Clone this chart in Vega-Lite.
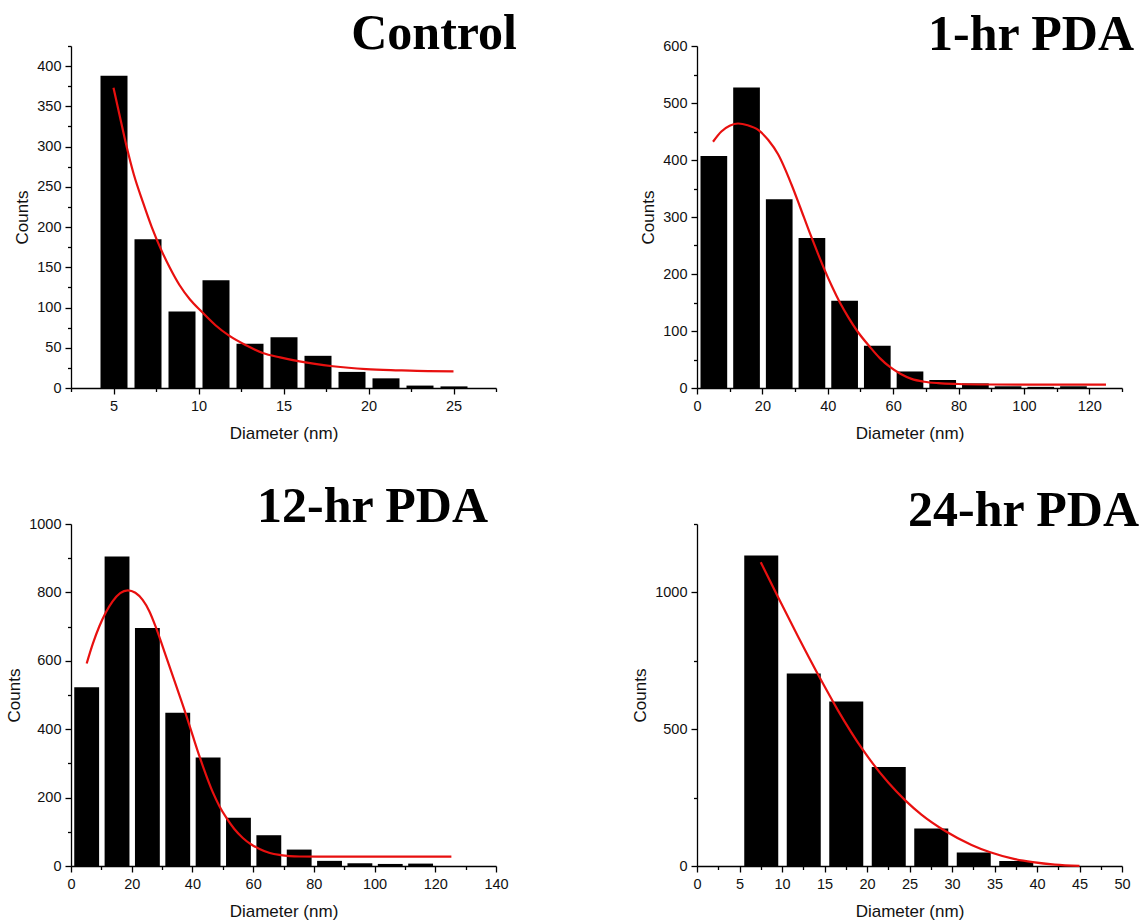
{
  "$schema": "https://vega.github.io/schema/vega-lite/v6.json",
  "padding": {"left": 5, "top": 9, "right": 0, "bottom": 0},
  "background": "white",
  "datasets": {
    "c_bars": [
      {"bin_start": 4, "bin_end": 6, "count": 388},
      {"bin_start": 6, "bin_end": 8, "count": 185},
      {"bin_start": 8, "bin_end": 10, "count": 95},
      {"bin_start": 10, "bin_end": 12, "count": 134},
      {"bin_start": 12, "bin_end": 14, "count": 55},
      {"bin_start": 14, "bin_end": 16, "count": 63},
      {"bin_start": 16, "bin_end": 18, "count": 40},
      {"bin_start": 18, "bin_end": 20, "count": 20},
      {"bin_start": 20, "bin_end": 22, "count": 12},
      {"bin_start": 22, "bin_end": 24, "count": 3},
      {"bin_start": 24, "bin_end": 26, "count": 2}
    ],
    "c_fit": [
      {"d": 5.0, "fit": 373}, {"d": 5.4, "fit": 335}, {"d": 5.75, "fit": 302}, {"d": 6.2, "fit": 265},
      {"d": 6.73, "fit": 231}, {"d": 7.25, "fit": 200}, {"d": 7.8, "fit": 172}, {"d": 8.3, "fit": 150},
      {"d": 8.88, "fit": 128}, {"d": 9.5, "fit": 110}, {"d": 10.18, "fit": 95}, {"d": 11.0, "fit": 78},
      {"d": 11.8, "fit": 65}, {"d": 12.8, "fit": 53}, {"d": 13.78, "fit": 43.5}, {"d": 14.8, "fit": 38},
      {"d": 15.94, "fit": 33}, {"d": 17.9, "fit": 27}, {"d": 19.86, "fit": 23.5}, {"d": 21.8, "fit": 22},
      {"d": 23.5, "fit": 21}, {"d": 25, "fit": 20.7}
    ],
    "h1_bars": [
      {"bin_start": 0, "bin_end": 10, "count": 407},
      {"bin_start": 10, "bin_end": 20, "count": 527},
      {"bin_start": 20, "bin_end": 30, "count": 331},
      {"bin_start": 30, "bin_end": 40, "count": 263},
      {"bin_start": 40, "bin_end": 50, "count": 153},
      {"bin_start": 50, "bin_end": 60, "count": 74},
      {"bin_start": 60, "bin_end": 70, "count": 29},
      {"bin_start": 70, "bin_end": 80, "count": 14},
      {"bin_start": 80, "bin_end": 90, "count": 8},
      {"bin_start": 90, "bin_end": 100, "count": 3},
      {"bin_start": 100, "bin_end": 110, "count": 2},
      {"bin_start": 110, "bin_end": 120, "count": 3}
    ],
    "h1_fit": [
      {"d": 4.9, "fit": 432}, {"d": 7.45, "fit": 450}, {"d": 10, "fit": 460}, {"d": 12.55, "fit": 464},
      {"d": 15.5, "fit": 461}, {"d": 18.9, "fit": 452}, {"d": 21.8, "fit": 435}, {"d": 24.8, "fit": 410},
      {"d": 28.9, "fit": 357}, {"d": 31.5, "fit": 318}, {"d": 34.5, "fit": 272}, {"d": 36.7, "fit": 240},
      {"d": 38.9, "fit": 209}, {"d": 41.3, "fit": 178}, {"d": 43.7, "fit": 150}, {"d": 46.3, "fit": 124},
      {"d": 49, "fit": 100}, {"d": 52.9, "fit": 72}, {"d": 56, "fit": 52}, {"d": 59, "fit": 37},
      {"d": 62.2, "fit": 25}, {"d": 65.6, "fit": 16}, {"d": 69.5, "fit": 11}, {"d": 73.8, "fit": 8.5},
      {"d": 80, "fit": 7}, {"d": 89.1, "fit": 6.1}, {"d": 100, "fit": 5.8}, {"d": 125.1, "fit": 5.8}
    ],
    "h12_bars": [
      {"bin_start": 0, "bin_end": 10, "count": 523},
      {"bin_start": 10, "bin_end": 20, "count": 905},
      {"bin_start": 20, "bin_end": 30, "count": 696},
      {"bin_start": 30, "bin_end": 40, "count": 448},
      {"bin_start": 40, "bin_end": 50, "count": 317},
      {"bin_start": 50, "bin_end": 60, "count": 141},
      {"bin_start": 60, "bin_end": 70, "count": 90},
      {"bin_start": 70, "bin_end": 80, "count": 48},
      {"bin_start": 80, "bin_end": 90, "count": 15},
      {"bin_start": 90, "bin_end": 100, "count": 8},
      {"bin_start": 100, "bin_end": 110, "count": 6},
      {"bin_start": 110, "bin_end": 120, "count": 7}
    ],
    "h12_fit": [
      {"d": 5.16, "fit": 592}, {"d": 7.2, "fit": 650}, {"d": 9.34, "fit": 701}, {"d": 11.5, "fit": 742},
      {"d": 13.7, "fit": 774}, {"d": 16.2, "fit": 798}, {"d": 18.7, "fit": 806}, {"d": 21.2, "fit": 799},
      {"d": 23.6, "fit": 778}, {"d": 25.8, "fit": 745}, {"d": 28, "fit": 697}, {"d": 31.3, "fit": 613},
      {"d": 34.6, "fit": 528}, {"d": 37.9, "fit": 442}, {"d": 40.1, "fit": 381}, {"d": 42.3, "fit": 321},
      {"d": 44.5, "fit": 266}, {"d": 46.7, "fit": 216}, {"d": 48.9, "fit": 175}, {"d": 51.1, "fit": 142},
      {"d": 53.8, "fit": 108}, {"d": 56.6, "fit": 82}, {"d": 59.4, "fit": 63}, {"d": 62.1, "fit": 50},
      {"d": 65.5, "fit": 38}, {"d": 69, "fit": 32}, {"d": 72, "fit": 29}, {"d": 75.3, "fit": 27.8},
      {"d": 85, "fit": 27.3}, {"d": 125.3, "fit": 27.3}
    ],
    "h24_bars": [
      {"bin_start": 5, "bin_end": 10, "count": 1135},
      {"bin_start": 10, "bin_end": 15, "count": 704},
      {"bin_start": 15, "bin_end": 20, "count": 601},
      {"bin_start": 20, "bin_end": 25, "count": 362},
      {"bin_start": 25, "bin_end": 30, "count": 137},
      {"bin_start": 30, "bin_end": 35, "count": 49},
      {"bin_start": 35, "bin_end": 40, "count": 18}
    ],
    "h24_fit": [
      {"d": 7.5, "fit": 1110}, {"d": 9.5, "fit": 985}, {"d": 11.9, "fit": 838}, {"d": 14.5, "fit": 685},
      {"d": 16.6, "fit": 568}, {"d": 19.5, "fit": 425}, {"d": 22.5, "fit": 305}, {"d": 24.5, "fit": 240},
      {"d": 26.4, "fit": 188}, {"d": 29.2, "fit": 128}, {"d": 32.3, "fit": 77}, {"d": 34.5, "fit": 50},
      {"d": 37.4, "fit": 25}, {"d": 39.5, "fit": 14}, {"d": 42.1, "fit": 5}, {"d": 45, "fit": 0.5}
    ]
  },
  "columns": 2,
  "spacing": {"row": 39, "column": 114},
  "concat": [
    {
      "width": 425, "height": 342,
      "title": {"text": "Control", "dx": 21, "offset": -14},
      "resolve": {"axis": {"x": "independent", "y": "independent"}},
      "layer": [
        {
          "data": {"name": "c_bars"},
          "mark": {"type": "bar", "color": "#000", "binSpacing": 7},
          "encoding": {
            "x": {"field": "bin_start", "type": "quantitative", "bin": "binned", "scale": {"domain": [2.5, 27.5], "nice": false}, "axis": {"title": "Diameter (nm)", "values": [5, 10, 15, 20, 25], "orient": "bottom"}},
            "x2": {"field": "bin_end"},
            "y": {"field": "count", "type": "quantitative", "scale": {"domain": [0, 425], "nice": false}, "axis": {"title": "Counts", "format": "d", "values": [0, 50, 100, 150, 200, 250, 300, 350, 400], "orient": "left"}}
          }
        },
        {
          "data": {"name": "c_fit"},
          "mark": {"type": "line", "color": "#e8100f", "strokeWidth": 2.2, "interpolate": "monotone"},
          "encoding": {
            "x": {"field": "d", "type": "quantitative", "scale": {"domain": [2.5, 27.5], "nice": false}, "axis": {"title": null, "labels": false, "domain": false, "tickSize": 3.5, "orient": "bottom", "values": [2.5, 7.5, 12.5, 17.5, 22.5, 27.5]}},
            "y": {"field": "fit", "type": "quantitative", "scale": {"domain": [0, 425], "nice": false}, "axis": {"title": null, "labels": false, "domain": false, "tickSize": 3.5, "orient": "left", "values": [25, 75, 125, 175, 225, 275, 325, 375, 425]}}
          }
        }
      ]
    },
    {
      "width": 425, "height": 342,
      "title": {"text": "1-hr PDA", "dx": 12, "offset": -22},
      "resolve": {"axis": {"x": "independent", "y": "independent"}},
      "layer": [
        {
          "data": {"name": "h1_bars"},
          "mark": {"type": "bar", "color": "#000", "binSpacing": 6},
          "encoding": {
            "x": {"field": "bin_start", "type": "quantitative", "bin": "binned", "scale": {"domain": [0, 130], "nice": false}, "axis": {"title": "Diameter (nm)", "values": [0, 20, 40, 60, 80, 100, 120], "orient": "bottom"}},
            "x2": {"field": "bin_end"},
            "y": {"field": "count", "type": "quantitative", "scale": {"domain": [0, 600], "nice": false}, "axis": {"title": "Counts", "format": "d", "values": [0, 100, 200, 300, 400, 500, 600], "orient": "left"}}
          }
        },
        {
          "data": {"name": "h1_fit"},
          "mark": {"type": "line", "color": "#e8100f", "strokeWidth": 2.2, "interpolate": "monotone"},
          "encoding": {
            "x": {"field": "d", "type": "quantitative", "scale": {"domain": [0, 130], "nice": false}, "axis": {"title": null, "labels": false, "domain": false, "tickSize": 3.5, "orient": "bottom", "values": [10, 30, 50, 70, 90, 110, 130]}},
            "y": {"field": "fit", "type": "quantitative", "scale": {"domain": [0, 600], "nice": false}, "axis": {"title": null, "labels": false, "domain": false, "tickSize": 3.5, "orient": "left", "values": [50, 150, 250, 350, 450, 550]}}
          }
        }
      ]
    },
    {
      "width": 425, "height": 342,
      "title": {"text": "12-hr PDA", "dx": -8, "offset": -15.7},
      "resolve": {"axis": {"x": "independent", "y": "independent"}},
      "layer": [
        {
          "data": {"name": "h12_bars"},
          "mark": {"type": "bar", "color": "#000", "binSpacing": 5.5},
          "encoding": {
            "x": {"field": "bin_start", "type": "quantitative", "bin": "binned", "scale": {"domain": [0, 140], "nice": false}, "axis": {"title": "Diameter (nm)", "values": [0, 20, 40, 60, 80, 100, 120, 140], "orient": "bottom"}},
            "x2": {"field": "bin_end"},
            "y": {"field": "count", "type": "quantitative", "scale": {"domain": [0, 1000], "nice": false}, "axis": {"title": "Counts", "format": "d", "values": [0, 200, 400, 600, 800, 1000], "orient": "left"}}
          }
        },
        {
          "data": {"name": "h12_fit"},
          "mark": {"type": "line", "color": "#e8100f", "strokeWidth": 2.2, "interpolate": "monotone"},
          "encoding": {
            "x": {"field": "d", "type": "quantitative", "scale": {"domain": [0, 140], "nice": false}, "axis": {"title": null, "labels": false, "domain": false, "tickSize": 3.5, "orient": "bottom", "values": [10, 30, 50, 70, 90, 110, 130]}},
            "y": {"field": "fit", "type": "quantitative", "scale": {"domain": [0, 1000], "nice": false}, "axis": {"title": null, "labels": false, "domain": false, "tickSize": 3.5, "orient": "left", "values": [100, 300, 500, 700, 900]}}
          }
        }
      ]
    },
    {
      "width": 425, "height": 342,
      "title": {"text": "24-hr PDA", "dx": 17, "offset": -12.3},
      "resolve": {"axis": {"x": "independent", "y": "independent"}},
      "layer": [
        {
          "data": {"name": "h24_bars"},
          "mark": {"type": "bar", "color": "#000", "binSpacing": 8.5},
          "encoding": {
            "x": {"field": "bin_start", "type": "quantitative", "bin": "binned", "scale": {"domain": [0, 50], "nice": false}, "axis": {"title": "Diameter (nm)", "values": [0, 5, 10, 15, 20, 25, 30, 35, 40, 45, 50], "orient": "bottom"}},
            "x2": {"field": "bin_end"},
            "y": {"field": "count", "type": "quantitative", "scale": {"domain": [0, 1250], "nice": false}, "axis": {"title": "Counts", "format": "d", "values": [0, 500, 1000], "orient": "left"}}
          }
        },
        {
          "data": {"name": "h24_fit"},
          "mark": {"type": "line", "color": "#e8100f", "strokeWidth": 2.2, "interpolate": "monotone"},
          "encoding": {
            "x": {"field": "d", "type": "quantitative", "scale": {"domain": [0, 50], "nice": false}, "axis": {"title": null, "labels": false, "domain": false, "tickSize": 3.5, "orient": "bottom", "values": [2.5, 7.5, 12.5, 17.5, 22.5, 27.5, 32.5, 37.5, 42.5, 47.5]}},
            "y": {"field": "fit", "type": "quantitative", "scale": {"domain": [0, 1250], "nice": false}, "axis": {"title": null, "labels": false, "domain": false, "tickSize": 3.5, "orient": "left", "values": [250, 750, 1250]}}
          }
        }
      ]
    }
  ],
  "config": {
    "view": {"stroke": null},
    "axis": {
      "labelFont": "Liberation Sans", "labelFontSize": 14.5, "labelColor": "#111",
      "titleFont": "Liberation Sans", "titleFontSize": 17, "titleFontWeight": "normal", "titleColor": "#111",
      "domainColor": "#000", "domainWidth": 1.3, "tickColor": "#000", "tickWidth": 1.3, "tickSize": 6,
      "grid": false, "labelOverlap": false, "labelFlush": false
    },
    "axisX": {"labelPadding": 5, "titlePadding": 13},
    "axisY": {"labelPadding": 4, "titlePadding": 5},
    "title": {"font": "Liberation Serif", "fontSize": 50, "fontWeight": "bold", "color": "#000", "anchor": "end", "frame": "group", "baseline": "alphabetic"}
  }
}
